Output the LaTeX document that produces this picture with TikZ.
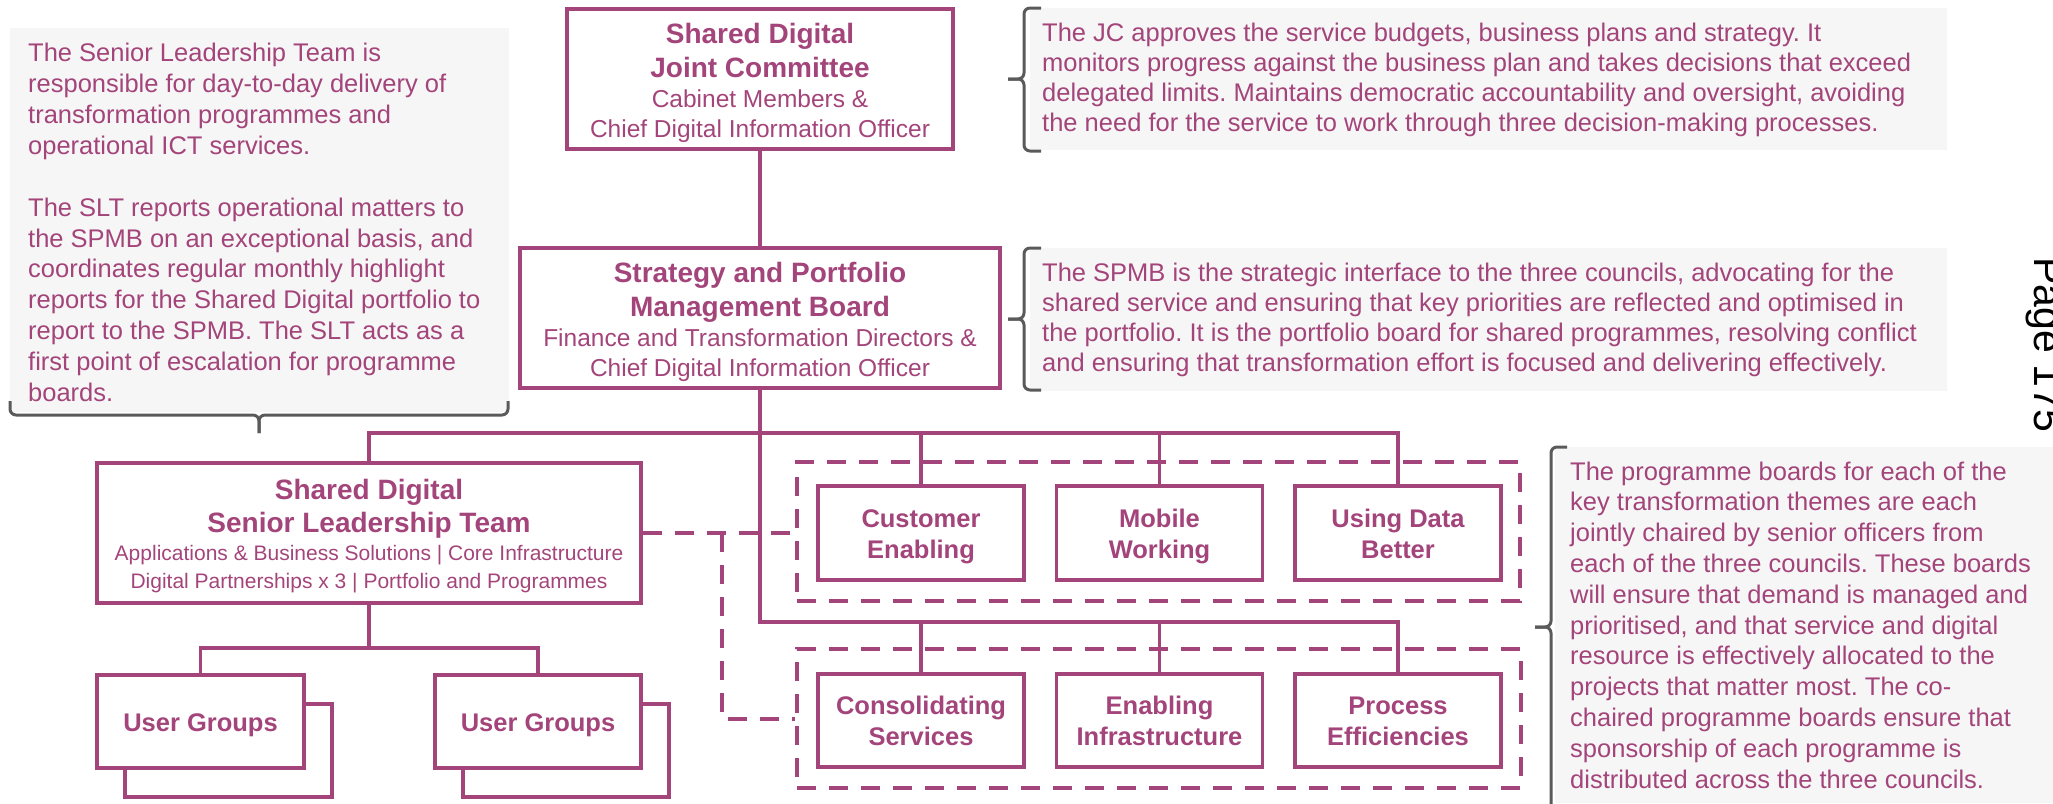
\documentclass[tikz,border=0pt]{standalone}
\usepackage{fontspec}
\setmainfont{Liberation Sans}
\frenchspacing
\definecolor{sdpurple}{RGB}{163,68,122}
\definecolor{notegrey}{RGB}{246,246,246}
\definecolor{bracketgrey}{RGB}{90,90,90}
\tikzset{
  orgbox/.style={draw=sdpurple, line width=3.5pt, text=sdpurple, align=center, inner sep=0pt},
  themebox/.style={orgbox, minimum width=206pt, minimum height=94pt, text height=56pt, text depth=5.6pt, font=\bfseries\fontsize{25.5}{31}\selectfont},
  dashbox/.style={draw=sdpurple, line width=4pt, dash pattern=on 19pt off 13pt},
  conn/.style={draw=sdpurple, line width=3.5pt},
  notetext/.style={text=sdpurple, align=left, anchor=north west, inner sep=0pt, font=\fontsize{25.5}{30.7}\selectfont},
  bracket/.style={draw=bracketgrey, line width=3pt, rounded corners=6pt}
}
\newcommand\hd{\bfseries\fontsize{28}{34}\selectfont}
\begin{document}
\begin{tikzpicture}[x=1pt,y=-1pt]
\useasboundingbox (0,0) rectangle (2053,803);
\fill[notegrey] (10,28) rectangle (509,412);
\fill[notegrey] (1030,8) rectangle (1947,150);
\fill[notegrey] (1030,248) rectangle (1947,391);
\fill[notegrey] (1555,447) rectangle (2053,803);
\node[notetext, font=\fontsize{25.5}{30.9}\selectfont] (sltnote) at (28,43) {The Senior Leadership Team is\\
  responsible for day-to-day delivery of\\
  transformation programmes and\\
  operational ICT services.\\
  \\
  The SLT reports operational matters to\\
  the SPMB on an exceptional basis, and\\
  coordinates regular monthly highlight\\
  reports for the Shared Digital portfolio to\\
  report to the SPMB. The SLT acts as a\\
  first point of escalation for programme\\
  boards.};
\node[notetext, font=\fontsize{25.5}{30}\selectfont] (jcnote) at (1042,23) {The JC approves the service budgets, business plans and strategy. It\\
  monitors progress against the business plan and takes decisions that exceed\\
  delegated limits. Maintains democratic accountability and oversight, avoiding\\
  the need for the service to work through three decision-making processes.};
\node[notetext, font=\fontsize{25.5}{29.8}\selectfont] (spmbnote) at (1042,263) {The SPMB is the strategic interface to the three councils, advocating for the\\
  shared service and ensuring that key priorities are reflected and optimised in\\
  the portfolio. It is the portfolio board for shared programmes, resolving conflict\\
  and ensuring that transformation effort is focused and delivering effectively.};
\node[notetext, font=\fontsize{25.5}{30.8}\selectfont] (themenote) at (1570,461.5) {The programme boards for each of the\\
  key transformation themes are each\\
  jointly chaired by senior officers from\\
  each of the three councils. These boards\\
  will ensure that demand is managed and\\
  prioritised, and that service and digital\\
  resource is effectively allocated to the\\
  projects that matter most. The co-\\
  chaired programme boards ensure that\\
  sponsorship of each programme is\\
  distributed across the three councils.};
\draw[bracket] (10,401) |- (259,415) -- (259,433);
\draw[bracket] (508,401) |- (259,415) -- (259,433);
\draw[bracket] (1041,8) -| (1024,79) -- (1008,79);
\draw[bracket] (1041,151) -| (1024,79) -- (1008,79);
\draw[bracket] (1041,248) -| (1024,319) -- (1008,319);
\draw[bracket] (1041,390) -| (1024,319) -- (1008,319);
\draw[bracket] (1567,447) -| (1551,627) -- (1535,627);
\draw[bracket] (1567,815) -| (1551,627) -- (1535,627);
\node[rotate=-90, anchor=base west, inner sep=0pt, font=\fontsize{41}{49}\selectfont] (pagenum) at (2034,257) {Page 175};
\node[orgbox, minimum width=386pt, minimum height=140pt, text height=123.4pt, text depth=6pt, font=\fontsize{24.5}{30.3}\selectfont] (jc) at (760,79)
  {\hd Shared Digital\\[3pt]\hd Joint Committee\\Cabinet Members \&\\Chief Digital Information Officer};
\node[orgbox, minimum width=480pt, minimum height=140pt, text height=123.4pt, text depth=6pt, font=\fontsize{24.5}{30.3}\selectfont] (spmb) at (760,318)
  {\hd Strategy and Portfolio\\[3pt]\hd Management Board\\Finance and Transformation Directors \&\\Chief Digital Information Officer};
\node[orgbox, minimum width=544pt, minimum height=140pt, text height=115.3pt, text depth=4.7pt, font=\fontsize{21}{28.3}\selectfont] (slt) at (369,533)
  {\hd Shared Digital\\[5.4pt]\hd Senior Leadership Team\\[-1pt]Applications \& Business Solutions | Core Infrastructure\\Digital Partnerships x 3 | Portfolio and Programmes};
\node[dashbox, minimum width=723pt, minimum height=139pt] (themesA) at (1158.5,531.5) {};
\node[dashbox, minimum width=724pt, minimum height=139pt] (themesB) at (1159,718.5) {};
\node[themebox] (custenab) at (921,533) {Customer\\Enabling};
\node[themebox] (mobwork) at (1159.5,533) {Mobile\\Working};
\node[themebox] (usedata) at (1398,533) {Using Data\\Better};
\node[themebox, minimum height=93pt] (consserv) at (921,720.5) {Consolidating\\Services};
\node[themebox, minimum height=93pt] (enabinfra) at (1159.5,720.5) {Enabling\\Infrastructure};
\node[themebox, minimum height=93pt] (proceff) at (1398,720.5) {Process\\Efficiencies};
\node[orgbox, fill=white, minimum width=207pt, minimum height=93pt] (usergroupsAback) at (228.5,750.5) {};
\node[themebox, fill=white, minimum width=207pt, minimum height=93pt, text height=25pt] (usergroupsA) at (200.5,721.5) {User Groups};
\node[orgbox, fill=white, minimum width=206pt, minimum height=93pt] (usergroupsBback) at (566,750.5) {};
\node[themebox, fill=white, minimum width=206pt, minimum height=93pt, text height=25pt] (usergroupsB) at (538,721.5) {User Groups};
\coordinate (busA) at (0,433);
\coordinate (busB) at (0,622);
\coordinate (busC) at (0,648);
\coordinate (split) at (721.5,533);
\draw[conn] (jc.south) -- (spmb.north);
\draw[conn] (slt.north) |- (usedata.north |- busA) -- (usedata.north);
\draw[conn] (custenab.north) -- (custenab.north |- busA);
\draw[conn] (mobwork.north) -- (mobwork.north |- busA);
\draw[conn] (spmb.south) -- (spmb.south |- busB) -| (proceff.north);
\draw[conn] (consserv.north) -- (consserv.north |- busB);
\draw[conn] (enabinfra.north) -- (enabinfra.north |- busB);
\draw[conn] (slt.south) -- (slt.south |- busC);
\draw[conn] (usergroupsA.north) |- (usergroupsB.north |- busC) -- (usergroupsB.north);
\draw[dashbox] (slt.east) -- (slt.east -| themesA.west);
\draw[dashbox] (split) |- (themesB.west);
\end{tikzpicture}
\end{document}
